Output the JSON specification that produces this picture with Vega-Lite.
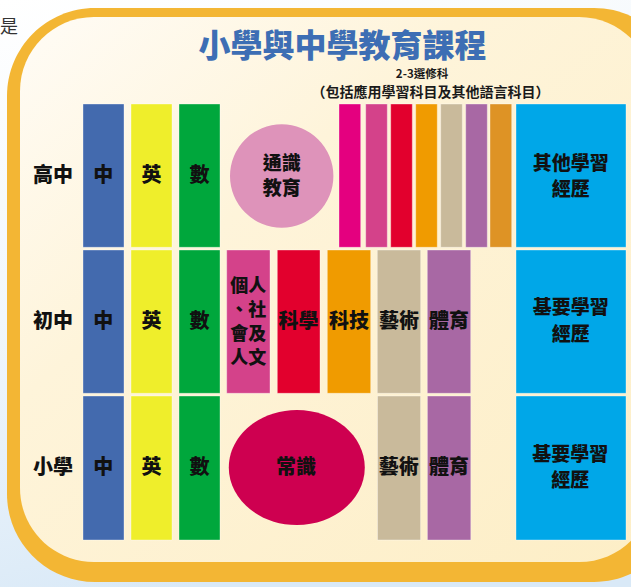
{
  "$schema": "https://vega.github.io/schema/vega-lite/v6.json",
  "width": 631,
  "height": 587,
  "autosize": "none",
  "padding": 0,
  "background": "#ffffff",
  "view": {"stroke": null},
  "config": {"text": {"font": "Noto Sans CJK TC"}},
  "encoding": {
    "x": {"field": "x", "type": "quantitative", "scale": {"domain": [0, 631], "nice": false, "zero": false}, "axis": null},
    "y": {"field": "y", "type": "quantitative", "scale": {"domain": [0, 587], "nice": false, "zero": false, "reverse": true}, "axis": null}
  },
  "layer": [
    {
      "data": {"values": [{"x": 0, "x2": 631, "y": 0, "y2": 587}]},
      "mark": {"type": "rect", "color": {"gradient": "linear", "x1": 0, "y1": 0, "x2": 0.3, "y2": 1, "stops": [{"offset": 0, "color": "#ffffff"}, {"offset": 0.5, "color": "#f1f7fc"}, {"offset": 1, "color": "#d9e9f7"}]}},
      "encoding": {"x2": {"field": "x2"}, "y2": {"field": "y2"}}
    },
    {
      "data": {"values": [{"text": "是", "x": 9, "y": 28}]},
      "mark": {"type": "text", "fontSize": 18, "color": "#333333", "align": "center", "baseline": "middle"},
      "encoding": {"text": {"field": "text"}}
    },
    {
      "data": {"values": [{"x": 7, "x2": 682, "y": 8, "y2": 582}]},
      "mark": {"type": "rect", "color": "#f3b634", "cornerRadius": 88},
      "encoding": {"x2": {"field": "x2"}, "y2": {"field": "y2"}}
    },
    {
      "data": {"values": [{"x": 20, "x2": 653, "y": 17, "y2": 562}]},
      "mark": {"type": "rect", "cornerRadius": 74, "color": {"gradient": "linear", "x1": 0, "y1": 0, "x2": 1, "y2": 1, "stops": [{"offset": 0, "color": "#fffcf6"}, {"offset": 0.35, "color": "#fef4da"}, {"offset": 1, "color": "#fdeec6"}]}},
      "encoding": {"x2": {"field": "x2"}, "y2": {"field": "y2"}}
    },
    {
      "data": {"values": [
        {"subject": "中", "x": 83, "x2": 124, "y": 104, "y2": 247.3},
        {"subject": "英", "x": 131, "x2": 172, "y": 104, "y2": 247.3},
        {"subject": "數", "x": 179, "x2": 220, "y": 104, "y2": 247.3},
        {"subject": "選修1", "x": 339, "x2": 360.7, "y": 104, "y2": 247.3},
        {"subject": "選修2", "x": 365.7, "x2": 387.3, "y": 104, "y2": 247.3},
        {"subject": "選修3", "x": 390.7, "x2": 412.3, "y": 104, "y2": 247.3},
        {"subject": "選修4", "x": 415.7, "x2": 437.3, "y": 104, "y2": 247.3},
        {"subject": "選修5", "x": 440.7, "x2": 462.3, "y": 104, "y2": 247.3},
        {"subject": "選修6", "x": 465.7, "x2": 487.3, "y": 104, "y2": 247.3},
        {"subject": "選修7", "x": 490, "x2": 511.7, "y": 104, "y2": 247.3},
        {"subject": "其他學習經歷", "x": 516, "x2": 626, "y": 104, "y2": 247.3},
        {"subject": "中", "x": 83, "x2": 124, "y": 250, "y2": 393.3},
        {"subject": "英", "x": 131, "x2": 172, "y": 250, "y2": 393.3},
        {"subject": "數", "x": 179, "x2": 220, "y": 250, "y2": 393.3},
        {"subject": "個人、社會及人文", "x": 226.7, "x2": 270, "y": 250, "y2": 393.3},
        {"subject": "科學", "x": 277.3, "x2": 320, "y": 250, "y2": 393.3},
        {"subject": "科技", "x": 327.3, "x2": 370.7, "y": 250, "y2": 393.3},
        {"subject": "藝術", "x": 377.3, "x2": 420.7, "y": 250, "y2": 393.3},
        {"subject": "體育", "x": 427.3, "x2": 470.7, "y": 250, "y2": 393.3},
        {"subject": "基要學習經歷", "x": 516, "x2": 626, "y": 250, "y2": 393.3},
        {"subject": "中", "x": 83, "x2": 124, "y": 396, "y2": 540},
        {"subject": "英", "x": 131, "x2": 172, "y": 396, "y2": 540},
        {"subject": "數", "x": 179, "x2": 220, "y": 396, "y2": 540},
        {"subject": "藝術", "x": 377.5, "x2": 420.6, "y": 396, "y2": 540},
        {"subject": "體育", "x": 427.4, "x2": 470.8, "y": 396, "y2": 540},
        {"subject": "基要學習經歷", "x": 516, "x2": 626, "y": 396, "y2": 540}
      ]},
      "mark": {"type": "rect", "stroke": "#ffffff", "strokeWidth": 1, "strokeOpacity": 0.35},
      "encoding": {
        "x2": {"field": "x2"},
        "y2": {"field": "y2"},
        "color": {"field": "subject", "type": "nominal", "legend": null,
          "scale": {
            "domain": ["中", "英", "數", "選修1", "選修2", "選修3", "選修4", "選修5", "選修6", "選修7", "其他學習經歷", "個人、社會及人文", "科學", "科技", "藝術", "體育", "基要學習經歷"],
            "range": ["#436aae", "#efee2b", "#00a73c", "#e4007f", "#d4428a", "#e2002d", "#f09b00", "#c9ba9b", "#a868a4", "#de9325", "#00a7e8", "#d4428a", "#e2002d", "#f09b00", "#c9ba9b", "#a868a4", "#00a7e8"]
          }}
      }
    },
    {
      "data": {"values": [{"subject": "通識教育", "x": 281.7, "y": 176}]},
      "mark": {"type": "point", "shape": "circle", "filled": true, "opacity": 1, "size": 10692, "color": "#de93ba"}
    },
    {
      "data": {"values": [{"subject": "常識", "x": 296.8, "y": 467.5}]},
      "mark": {"type": "point", "shape": "M-1,0A1,0.846,0,1,0,1,0A1,0.846,0,1,0,-1,0Z", "filled": true, "opacity": 1, "size": 18496, "color": "#ce0050"}
    },
    {
      "data": {"values": [{"text": "小學與中學教育課程", "x": 342.5, "y": 46.5}]},
      "mark": {"type": "text", "fontSize": 32, "fontWeight": 900, "color": "#3d6eb4", "align": "center", "baseline": "middle"},
      "encoding": {"text": {"field": "text"}}
    },
    {
      "data": {"values": [
        {"text": "2-3選修科", "x": 422, "y": 75, "size": 11.5},
        {"text": "（包括應用學習科目及其他語言科目）", "x": 430.5, "y": 92.5, "size": 14}
      ]},
      "mark": {"type": "text", "fontWeight": "bold", "color": "#1a1a1a", "align": "center", "baseline": "middle"},
      "encoding": {"text": {"field": "text"}, "size": {"field": "size", "type": "quantitative", "scale": null}}
    },
    {
      "data": {"values": [
        {"text": "個人", "x": 248.3, "y": 286.7},
        {"text": "、社", "x": 248.3, "y": 310.7},
        {"text": "會及", "x": 248.3, "y": 335},
        {"text": "人文", "x": 248.3, "y": 358.8}
      ]},
      "mark": {"type": "text", "fontSize": 18, "fontWeight": 900, "color": "#111111", "align": "center", "baseline": "middle"},
      "encoding": {"text": {"field": "text"}}
    },
    {
      "data": {"values": [
        {"text": "通識", "x": 281.7, "y": 163.5},
        {"text": "教育", "x": 281.7, "y": 189},
        {"text": "其他學習", "x": 570.7, "y": 163.5},
        {"text": "經歷", "x": 570.7, "y": 189.5},
        {"text": "基要學習", "x": 570.7, "y": 308},
        {"text": "經歷", "x": 570.7, "y": 335},
        {"text": "基要學習", "x": 570.3, "y": 454.5},
        {"text": "經歷", "x": 570.3, "y": 481}
      ]},
      "mark": {"type": "text", "fontSize": 19, "fontWeight": 900, "color": "#111111", "align": "center", "baseline": "middle"},
      "encoding": {"text": {"field": "text"}}
    },
    {
      "data": {"values": [
        {"text": "高中", "x": 53, "y": 176},
        {"text": "初中", "x": 53, "y": 321.7},
        {"text": "小學", "x": 53, "y": 468},
        {"text": "中", "x": 103.3, "y": 176},
        {"text": "英", "x": 151.5, "y": 176},
        {"text": "數", "x": 199.5, "y": 176},
        {"text": "中", "x": 103.3, "y": 321.7},
        {"text": "英", "x": 151.5, "y": 321.7},
        {"text": "數", "x": 199.5, "y": 321.7},
        {"text": "中", "x": 103.3, "y": 468},
        {"text": "英", "x": 151.5, "y": 468},
        {"text": "數", "x": 199.5, "y": 468},
        {"text": "科學", "x": 298.5, "y": 321.7},
        {"text": "科技", "x": 349, "y": 321.7},
        {"text": "藝術", "x": 399, "y": 321.7},
        {"text": "體育", "x": 449, "y": 321.7},
        {"text": "常識", "x": 296, "y": 468},
        {"text": "藝術", "x": 398.7, "y": 468},
        {"text": "體育", "x": 448.9, "y": 468}
      ]},
      "mark": {"type": "text", "fontSize": 20, "fontWeight": 900, "color": "#111111", "align": "center", "baseline": "middle"},
      "encoding": {"text": {"field": "text"}}
    }
  ]
}
